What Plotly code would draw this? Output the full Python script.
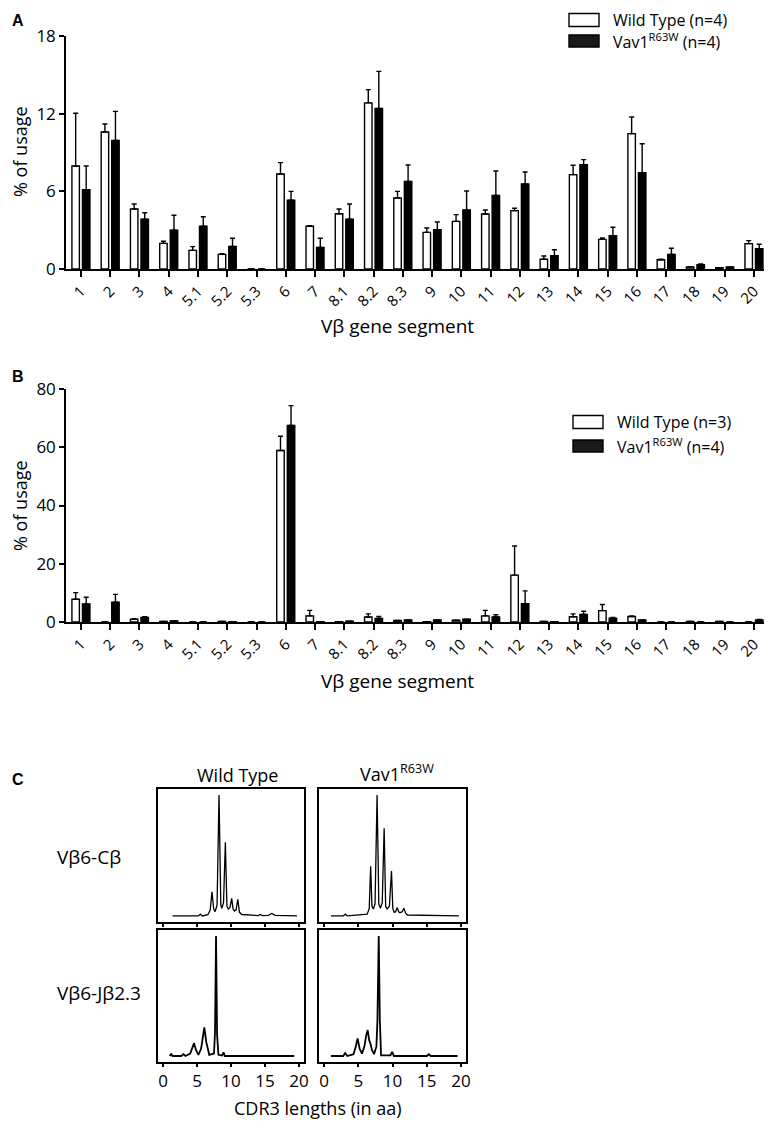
import plotly.graph_objects as go

# Vbeta gene segments (panels A and B)
segments = ["1", "2", "3", "4", "5.1", "5.2", "5.3", "6", "7", "8.1", "8.2", "8.3",
            "9", "10", "11", "12", "13", "14", "15", "16", "17", "18", "19", "20"]

# panel A, % of usage (mean) and upper error
a_wt = [7.96, 10.58, 4.64, 1.98, 1.44, 1.13, 0, 7.34, 3.30, 4.27, 12.83, 5.49,
        2.83, 3.68, 4.25, 4.51, 0.75, 7.29, 2.29, 10.46, 0.72, 0.15, 0.10, 1.96]
a_wt_err = [4.07, 0.62, 0.38, 0.16, 0.29, 0.05, 0, 0.88, 0.05, 0.37, 1.03, 0.51,
            0.34, 0.52, 0.31, 0.18, 0.25, 0.72, 0.11, 1.28, 0.03, 0, 0, 0.23]
a_vav = [6.13, 9.94, 3.84, 2.99, 3.30, 1.75, 0, 5.31, 1.67, 3.84, 12.41, 6.77,
         3.04, 4.56, 5.69, 6.57, 1.03, 8.06, 2.58, 7.44, 1.13, 0.33, 0.15, 1.57]
a_vav_err = [1.83, 2.24, 0.51, 1.16, 0.74, 0.62, 0, 0.69, 0.70, 1.18, 2.86, 1.27,
             0.59, 1.47, 1.88, 0.92, 0.46, 0.39, 0.64, 2.24, 0.47, 0.06, 0, 0.34]

# panel B
b_wt = [7.8, 0, 1.0, 0.2, 0, 0.2, 0, 58.9, 2.1, 0.1, 1.7, 0.5,
        0.1, 0.6, 2.1, 16.1, 0.2, 1.8, 3.9, 1.9, 0, 0.2, 0.2, 0]
b_wt_err = [2.3, 0, 0.1, 0, 0, 0, 0, 4.9, 1.9, 0, 1.1, 0,
            0, 0, 1.9, 10.0, 0, 1.0, 2.1, 0.2, 0, 0, 0, 0]
b_vav = [6.2, 6.8, 1.6, 0.4, 0, 0.1, 0, 67.5, 0.1, 0.3, 1.2, 0.7,
         0.7, 1.0, 1.7, 6.3, 0.1, 2.6, 1.3, 0.7, 0, 0, 0, 0.7]
b_vav_err = [2.3, 2.7, 0.2, 0, 0, 0, 0, 6.8, 0, 0, 0.7, 0,
             0, 0, 0.8, 4.4, 0, 1.1, 0.3, 0, 0, 0, 0, 0.2]

# panel C, spectratype profiles (CDR3 length in aa, relative intensity)
wt_cb_x = [1.4, 5.2, 5.5, 5.8, 6.6, 6.95, 7.2, 7.45, 7.65, 7.95, 8.24, 8.5, 8.65, 8.9, 9.17,
           9.4, 9.6, 9.85, 10.1, 10.3, 10.5, 10.75, 11.0, 11.25, 11.6, 14.0, 14.3, 14.6,
           15.5, 16.0, 16.5, 19.7]
wt_cb_y = [0, 0, 1.5, 0, 1, 5, 20, 6, 3.5, 9, 100, 9, 6.4, 11, 61, 8, 5.8, 7, 14.6, 6,
           4.1, 5, 13.8, 3, 1.2, 0.3, 1.2, 0.3, 0.5, 2, 0.5, 0]
vav_cb_x = [1.0, 2.8, 3.1, 3.4, 6.3, 6.6, 6.81, 7.0, 7.2, 7.45, 7.75, 8.0, 8.24, 8.5, 8.78,
            9.0, 9.22, 9.55, 9.85, 10.05, 10.25, 10.45, 10.69, 10.9, 11.1, 11.4, 11.67,
            11.9, 12.2, 19.7]
vav_cb_y = [0, 0, 1.5, 0, 1.5, 6, 41, 8, 5.8, 10, 100, 10, 6.4, 11, 72.5, 8, 5.8, 8, 37.2,
            6, 3.0, 3.5, 6.9, 3.5, 2.7, 3.5, 6.4, 2.5, 0.8, 0]
wt_jb_x = [1.0, 1.2, 1.4, 2.7, 3.0, 3.3, 4.0, 4.3, 4.56, 4.85, 5.2, 5.6, 5.85, 6.08, 6.35,
           6.8, 7.5, 7.65, 7.8, 7.95, 8.15, 8.7, 8.9, 9.1, 19.3]
wt_jb_y = [0, 2, 0, 0, 1.5, 0, 2, 6, 10.7, 5, 1, 6, 16, 23.8, 12, 1, 2, 20, 100, 18, 1,
           0.5, 3, 0, 0]
vav_jb_x = [1.0, 2.8, 3.09, 3.4, 4.3, 4.6, 4.9, 5.2, 5.54, 5.9, 6.15, 6.37, 6.6, 6.8, 7.0,
            7.3, 7.65, 7.8, 7.99, 8.15, 8.33, 9.7, 9.95, 10.2, 15.0, 15.3, 15.6, 19.5]
vav_jb_y = [0, 0, 2.5, 0, 1.5, 7, 14.6, 6, 2, 8, 17, 21.6, 13, 10, 5, 1.5, 8, 30, 100, 30, 0.5,
            0.5, 3.5, 0, 0, 1.5, 0, 0]

# the page body adds an 8 px margin, so the figure is 8 px smaller than the window
OFF = 8
W, H = 772 - OFF, 1125 - OFF
FONT = "Open Sans"


def fx(p):
    return (p - OFF) / W


def fy(p):
    return 1 - (p - OFF) / H


pos = list(range(len(segments)))
zeros = [0] * len(segments)

fig = go.Figure()


def bars(vals, errs, dark, xa, ya, name):
    fig.add_trace(go.Bar(
        x=pos, y=vals, name=name, xaxis=xa, yaxis=ya, showlegend=False,
        marker=dict(color="black" if dark else "white", line=dict(color="black", width=1.4)),
        error_y=dict(type="data", symmetric=False, array=errs, arrayminus=zeros,
                     color="black", thickness=1.4, width=2.5),
    ))


bars(a_wt, a_wt_err, False, "x", "y", "Wild Type")
bars(a_vav, a_vav_err, True, "x", "y", "Vav1 R63W")
bars(b_wt, b_wt_err, False, "x2", "y2", "Wild Type")
bars(b_vav, b_vav_err, True, "x2", "y2", "Vav1 R63W")

profiles = [(wt_cb_x, wt_cb_y, "x3", "y3", 1.3), (vav_cb_x, vav_cb_y, "x4", "y4", 1.3),
            (wt_jb_x, wt_jb_y, "x5", "y5", 1.8), (vav_jb_x, vav_jb_y, "x6", "y6", 1.8)]
for px_, py_, xa, ya, lw in profiles:
    fig.add_trace(go.Scatter(x=px_, y=py_, mode="lines", xaxis=xa, yaxis=ya,
                             line=dict(color="black", width=lw), showlegend=False))

ax_common = dict(showline=True, linecolor="black", linewidth=1.5, showgrid=False,
                 zeroline=False, ticks="outside", tickcolor="black", tickwidth=1.5,
                 automargin=False)

cat_axis = dict(ax_common, range=[-0.51, 23.48], tickvals=pos, ticktext=segments,
                ticklen=6, tickangle=-45, tickfont=dict(size=15, family=FONT))

c_x = dict(ax_common, range=[-0.735, 20.735], tickvals=[0, 5, 10, 15, 20], ticklen=3,
           mirror=True, tickfont=dict(size=17, family=FONT))
c_y = dict(showline=True, linecolor="black", linewidth=1.5, mirror=True, showgrid=False,
           zeroline=False, showticklabels=False, ticks="", range=[-5, 105], automargin=False)

fig.update_layout(
    template="none",
    width=W, height=H, margin=dict(l=0, r=0, t=0, b=0, pad=0), autosize=False,
    paper_bgcolor="white", plot_bgcolor="white",
    font=dict(family=FONT, color="black"),
    barmode="group", bargap=0.28, bargroupgap=0.29,
    xaxis=dict(cat_axis, domain=[fx(66), fx(768)], anchor="y"),
    yaxis=dict(ax_common, domain=[fy(269), fy(36)], range=[0, 18], tickvals=[0, 6, 12, 18],
               ticklen=5, tickfont=dict(size=17, family=FONT), anchor="x"),
    xaxis2=dict(cat_axis, domain=[fx(66), fx(768)], anchor="y2"),
    yaxis2=dict(ax_common, domain=[fy(622), fy(389)], range=[0, 80],
                tickvals=[0, 20, 40, 60, 80], ticklen=5, tickfont=dict(size=17, family=FONT),
                anchor="x2"),
    xaxis3=dict(c_x, domain=[fx(158), fx(304)], anchor="y3", showticklabels=False),
    yaxis3=dict(c_y, domain=[fy(922), fy(789)], anchor="x3"),
    xaxis4=dict(c_x, domain=[fx(319), fx(466)], anchor="y4", showticklabels=False),
    yaxis4=dict(c_y, domain=[fy(922), fy(789)], anchor="x4"),
    xaxis5=dict(c_x, domain=[fx(158), fx(304)], anchor="y5"),
    yaxis5=dict(c_y, domain=[fy(1062), fy(930)], anchor="x5"),
    xaxis6=dict(c_x, domain=[fx(319), fx(466)], anchor="y6"),
    yaxis6=dict(c_y, domain=[fy(1062), fy(930)], anchor="x6"),
)


def text(s, x, y, size, xanchor="center", bold=False, angle=0, family=FONT):
    fig.add_annotation(text=f"<b>{s}</b>" if bold else s, x=fx(x), y=fy(y),
                       xref="paper", yref="paper", xanchor=xanchor, yanchor="middle",
                       showarrow=False, textangle=angle,
                       font=dict(size=size, family=family, color="black"))


# panel letters
text("A", 18, 20, 16, bold=True, family="Liberation Sans")
text("B", 18, 376, 16, bold=True, family="Liberation Sans")
text("C", 18, 779, 16, bold=True, family="Liberation Sans")

# axis titles
text("% of usage", 20, 152, 18, angle=-90)
text("% of usage", 20, 506, 18, angle=-90)
text("Vβ gene segment", 397, 326, 19)
text("Vβ gene segment", 397, 681, 19)

# legends
for (x0, y_white, y_black, n_wt) in [(569, 20, 41, 4), (573, 422, 446, 3)]:
    fig.add_shape(type="rect", xref="paper", yref="paper", x0=fx(x0), x1=fx(x0 + 30),
                  y0=fy(y_white + 6.5), y1=fy(y_white - 6.5),
                  line=dict(color="black", width=1.4), fillcolor="white")
    fig.add_shape(type="rect", xref="paper", yref="paper", x0=fx(x0), x1=fx(x0 + 30),
                  y0=fy(y_black + 6), y1=fy(y_black - 6),
                  line=dict(color="black", width=1.4), fillcolor="#1a1a1a")
    text(f"Wild Type (n={n_wt})", x0 + 42, y_white, 16, xanchor="left")
    text("Vav1<sup>R63W</sup> (n=4)", x0 + 42, y_black, 16, xanchor="left")

# panel C labels
text("Wild Type", 237, 775, 18)
text("Vav1<sup>R63W</sup>", 397, 773, 18)
text("Vβ6-Cβ", 55, 857, 19, xanchor="left")
text("Vβ6-Jβ2.3", 55, 993, 19, xanchor="left")
text("CDR3 lengths (in aa)", 318, 1108, 18)

fig.write_html("out.html")
